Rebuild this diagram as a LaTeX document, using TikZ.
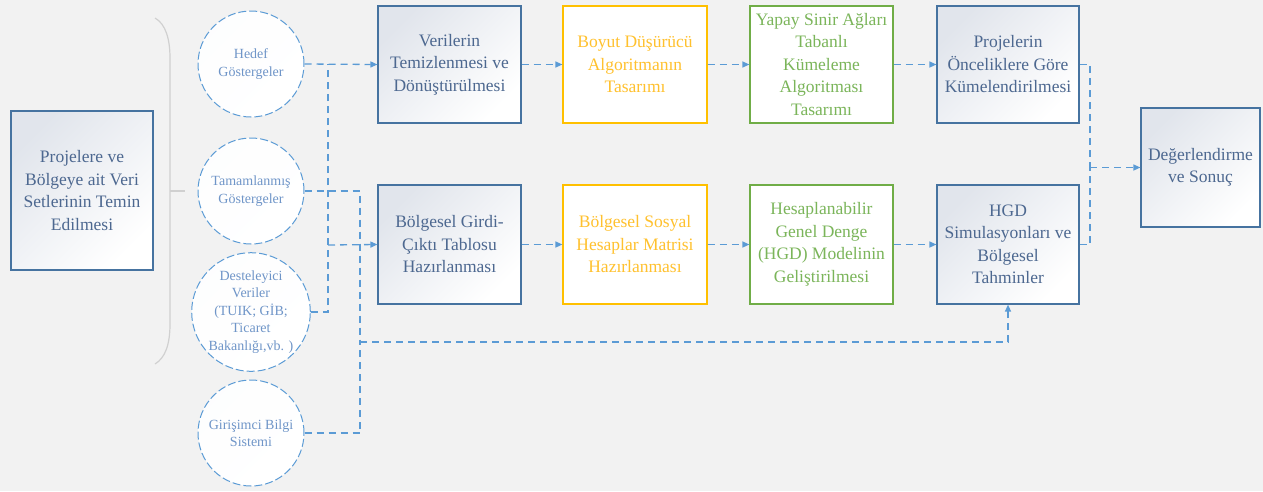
\documentclass[tikz,border=0pt]{standalone}
\usepackage{fontspec}
\setmainfont{Liberation Serif}
\usetikzlibrary{arrows.meta}
\definecolor{bgc}{HTML}{F2F2F2}
\definecolor{bbord}{HTML}{4673A0}
\definecolor{btext}{HTML}{4D6890}
\definecolor{grad}{HTML}{E1E5EC}
\definecolor{ybord}{HTML}{FFC000}
\definecolor{ytext}{HTML}{FFC12E}
\definecolor{gbord}{HTML}{70AD47}
\definecolor{gtext}{HTML}{7BB55A}
\definecolor{conn}{HTML}{5B9BD5}
\definecolor{ctext}{HTML}{6F95C8}
\definecolor{bracec}{HTML}{D0D0D0}
\tikzset{
  boxbase/.style={rectangle, line width=1.2pt, inner sep=0pt, align=center,
    minimum width=143pt, minimum height=118pt,
    font=\fontsize{17.5}{22.5}\selectfont},
  bluebox/.style={boxbase, draw=bbord, text=btext, top color=grad, bottom color=white, shading angle=45},
  yellowbox/.style={boxbase, draw=ybord, text=ytext, fill=white},
  greenbox/.style={boxbase, draw=gbord, text=gtext, fill=white},
  srccircle/.style={circle, draw=conn, line width=1pt, dash pattern=on 8pt off 3pt,
    minimum size=106pt, inner sep=0pt, align=center, text=ctext,
    top color=white!94!grad, bottom color=white, shading angle=45,
    font=\fontsize{14}{17.5}\selectfont},
  dl/.style={draw=conn, line width=1.3pt, dash pattern=on 7pt off 5pt},
  da/.style={dl, -{Triangle[length=7pt,width=6pt]}},
}
\begin{document}
\begin{tikzpicture}[x=1pt,y=-1pt]
\fill[bgc] (0,0) rectangle (1263,491);
\useasboundingbox (0,0) rectangle (1263,491);

% left box and brace
\node[bluebox, minimum width=142pt, minimum height=159pt] (src) at (82,190.5)
  {Projelere ve\\Bölgeye ait Veri\\Setlerinin Temin\\Edilmesi};
\draw[bracec, line width=1.2pt] (155,18) .. controls (166,24) and (170,40) .. (170,58)
  -- (170,324) .. controls (170,345) and (165,358) .. (155,364);
\draw[bracec, line width=1.2pt] (170,191) -- (185,191);

% circles
\node[srccircle] (hedef) at (251,64) {Hedef\\Göstergeler};
\node[srccircle] (tam) at (251,191) {Tamamlanmış\\Göstergeler};
\node[srccircle] (dest) at (251,312) {Desteleyici\\Veriler\\(TUIK; GİB;\\Ticaret\\Bakanlığı,vb. )};
\node[srccircle] (gir) at (251,433) {Girişimci Bilgi\\Sistemi};

% top row
\node[bluebox, minimum height=117pt] (vA) at (449.5,64.5) {Verilerin\\Temizlenmesi ve\\Dönüştürülmesi};
\node[yellowbox, minimum height=117pt, minimum width=144pt] (bB) at (635,64.5) {Boyut Düşürücü\\Algoritmanın\\Tasarımı};
\node[greenbox, minimum height=117pt] (yC) at (821.5,64.5) {Yapay Sinir Ağları\\Tabanlı\\Kümeleme\\Algoritması\\Tasarımı};
\node[bluebox, minimum height=117pt, minimum width=142pt] (pD) at (1008,64.5) {Projelerin\\Önceliklere Göre\\Kümelendirilmesi};

% bottom row
\node[bluebox, minimum height=119pt] (bF) at (449.5,244.5) {Bölgesel Girdi-\\Çıktı Tablosu\\Hazırlanması};
\node[yellowbox, minimum height=119pt, minimum width=144pt] (sG) at (635,244.5) {Bölgesel Sosyal\\Hesaplar Matrisi\\Hazırlanması};
\node[greenbox, minimum height=119pt] (hH) at (821.5,244.5) {Hesaplanabilir\\Genel Denge\\(HGD) Modelinin\\Geliştirilmesi};
\node[bluebox, minimum height=119pt, minimum width=142pt] (hI) at (1008,244.5) {HGD\\Simulasyonları ve\\Bölgesel\\Tahminler};

% result
\node[bluebox, minimum width=119pt, minimum height=119pt] (eE) at (1200.5,167.5) {Değerlendirme\\ve Sonuç};

% junctions
\coordinate (jA) at (328,64);
\coordinate (jB) at (328,245);
\coordinate (jC) at (360,342);
\coordinate (jE) at (1090,167.5);

% connectors from sources
\draw[da] (hedef.east) -- (vA.west);
\draw[dl] (dest.east) -| (jA);
\draw[da] (jB) -- (bF.west);
\draw[dl] (tam.east) -| (jC);
\draw[dl] (gir.east) -| (jC);
\draw[da] (jC) -| (hI.south);

% row flows
\draw[da] (vA.east) -- (bB.west);
\draw[da] (bB.east) -- (yC.west);
\draw[da] (yC.east) -- (pD.west);
\draw[da] (bF.east) -- (sG.west);
\draw[da] (sG.east) -- (hH.west);
\draw[da] (hH.east) -- (hI.west);

% to result
\draw[dl] (pD.east) -| (jE);
\draw[dl] (hI.east) -| (jE);
\draw[da] (jE) -- (eE.west);
\end{tikzpicture}
\end{document}
